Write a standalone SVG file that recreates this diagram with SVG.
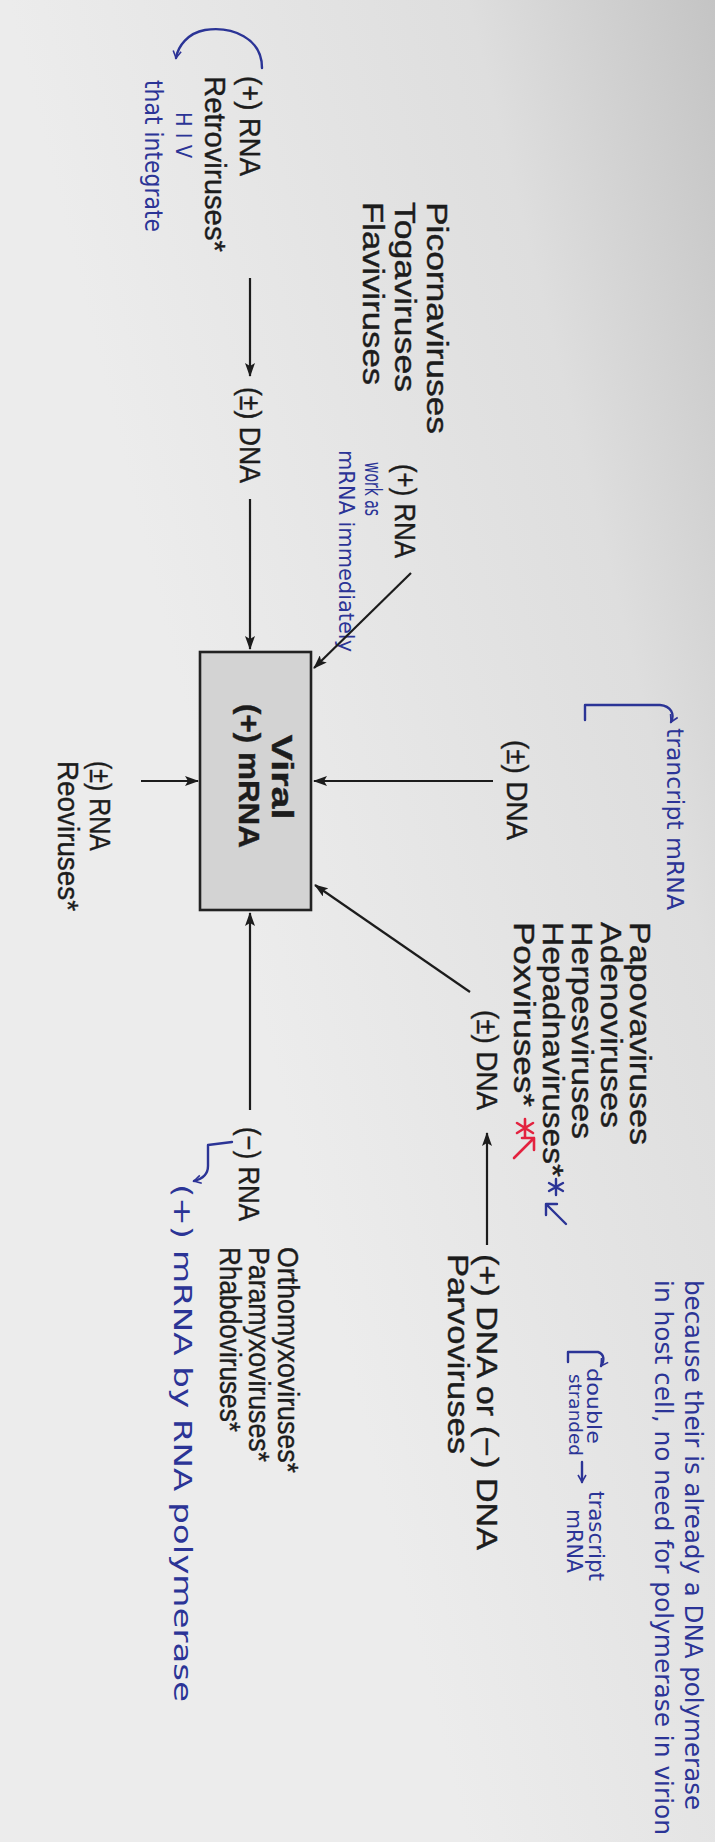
<svg xmlns="http://www.w3.org/2000/svg" width="715" height="1842" viewBox="0 0 715 1842">
<defs>
<linearGradient id="bg" x1="1" y1="0" x2="0.3" y2="0.45">
<stop offset="0" stop-color="#c4c4c4"/>
<stop offset="0.35" stop-color="#dedede"/>
<stop offset="1" stop-color="#ececec"/>
</linearGradient>
<marker id="ah" viewBox="0 0 14 10" refX="13" refY="5" markerWidth="14" markerHeight="10" markerUnits="userSpaceOnUse" orient="auto">
<path d="M0,0 L14,5 L0,10 L3,5 z" fill="#1c1c1c"/>
</marker>
<marker id="bh" viewBox="0 0 10 10" refX="8" refY="5" markerWidth="10" markerHeight="10" markerUnits="userSpaceOnUse" orient="auto">
<path d="M1,1 L8,5 L1,9" fill="none" stroke="#2d3296" stroke-width="1.6"/>
</marker>
<style>
.p{font-family:"Liberation Sans",Arial,sans-serif;font-size:29px;fill:#1c1c1c;stroke:#1c1c1c;stroke-width:0.4}
.b{font-weight:bold}
.h{font-family:"DejaVu Sans Condensed","Liberation Sans Narrow","DejaVu Sans",sans-serif;fill:#2b3496}
.c{stroke:#1c1c1c;stroke-width:2.2;fill:none;marker-end:url(#ah)}
.bl{stroke:#2b3496;stroke-width:2.4;fill:none;stroke-linecap:round;stroke-linejoin:round}
.rd{stroke:#e3223f;stroke-width:2.6;fill:none;stroke-linecap:round;stroke-linejoin:round}
</style>
</defs>
<rect width="715" height="1842" fill="url(#bg)"/>

<g id="retro">
<text class="p" transform="translate(240,76) rotate(90)" textLength="100" lengthAdjust="spacingAndGlyphs">(+) RNA</text>
<text class="p" transform="translate(205,76) rotate(90)" textLength="176" lengthAdjust="spacingAndGlyphs">Retroviruses*</text>
</g>
<g id="retro-note">
<path class="bl" d="M262,68 C262,38 232,26 205,30 C188,33 178,46 176,58" marker-end="url(#bh)"/>
<text class="h" font-size="22" transform="translate(176,112) rotate(90)" textLength="46" lengthAdjust="spacingAndGlyphs">H I V</text>
<text class="h" font-size="25" transform="translate(145,80) rotate(90)" textLength="152" lengthAdjust="spacingAndGlyphs">that integrate</text>
</g>
<g id="dna-left">
<text class="p" transform="translate(240,387) rotate(90)" textLength="96" lengthAdjust="spacingAndGlyphs">(±) DNA</text>
</g>
<g id="picorna">
<text class="p" transform="translate(427,202) rotate(90)" textLength="232" lengthAdjust="spacingAndGlyphs">Picornaviruses</text>
<text class="p" transform="translate(395,202) rotate(90)" textLength="190" lengthAdjust="spacingAndGlyphs">Togaviruses</text>
<text class="p" transform="translate(363,202) rotate(90)" textLength="183" lengthAdjust="spacingAndGlyphs">Flaviviruses</text>
<text class="p" transform="translate(395,464) rotate(90)" textLength="94" lengthAdjust="spacingAndGlyphs">(+) RNA</text>
</g>
<g id="picorna-note">
<text class="h" font-size="23" transform="translate(365,462) rotate(90)" textLength="54" lengthAdjust="spacingAndGlyphs">work as</text>
<text class="h" font-size="22" transform="translate(339,450) rotate(90)" textLength="202" lengthAdjust="spacingAndGlyphs">mRNA immediately</text>
</g>
<g id="viral-mrna">
<rect x="200" y="652" width="111" height="258" fill="#d3d3d3" stroke="#222" stroke-width="2.6"/>
<text class="p b" text-anchor="middle" transform="translate(272,777) rotate(90)" textLength="85" lengthAdjust="spacingAndGlyphs">Viral</text>
<text class="p b" text-anchor="middle" transform="translate(239,776) rotate(90)" textLength="144" lengthAdjust="spacingAndGlyphs">(+) mRNA</text>
</g>
<g id="reo">
<text class="p" transform="translate(90,761) rotate(90)" textLength="90" lengthAdjust="spacingAndGlyphs">(±) RNA</text>
<text class="p" transform="translate(58,761) rotate(90)" textLength="150" lengthAdjust="spacingAndGlyphs">Reoviruses*</text>
</g>
<g id="papova">
<text class="p" transform="translate(507,740) rotate(90)" textLength="100" lengthAdjust="spacingAndGlyphs">(±) DNA</text>
<text class="p" transform="translate(630,922) rotate(90)" textLength="223" lengthAdjust="spacingAndGlyphs">Papovaviruses</text>
<text class="p" transform="translate(601,922) rotate(90)" textLength="206" lengthAdjust="spacingAndGlyphs">Adenoviruses</text>
<text class="p" transform="translate(572,922) rotate(90)" textLength="217" lengthAdjust="spacingAndGlyphs">Herpesviruses</text>
<text class="p" transform="translate(543,922) rotate(90)" textLength="255" lengthAdjust="spacingAndGlyphs">Hepadnaviruses*</text>
<text class="p" transform="translate(514,922) rotate(90)" textLength="185" lengthAdjust="spacingAndGlyphs">Poxviruses*</text>
</g>
<g id="papova-note">
<path class="bl" d="M585,720 L585,705 L660,705 C671,706 675,714 671,722" marker-end="url(#bh)"/>
<text class="h" font-size="23" transform="translate(667,728) rotate(90)" textLength="182" lengthAdjust="spacingAndGlyphs">trancript mRNA</text>
<text class="h" font-size="24" transform="translate(685,1280) rotate(90)" textLength="530" lengthAdjust="spacingAndGlyphs">because their is already a DNA polymerase</text>
<text class="h" font-size="24" transform="translate(655,1280) rotate(90)" textLength="555" lengthAdjust="spacingAndGlyphs">in host cell, no need for polymerase in virion</text>
<g class="bl">
<path d="M556,1179 L556,1195 M549,1183 L563,1191 M549,1191 L563,1183"/>
<path d="M566,1224 L546,1204 M546,1215 L546,1204 L557,1204"/>
</g>
<g class="rd">
<path d="M525,1119 L525,1137 M517,1123 L533,1133 M517,1133 L533,1123"/>
<path d="M514,1158 L534,1138 M522,1138 L534,1138 L534,1150"/>
</g>
</g>
<g id="dna-mid">
<text class="p" transform="translate(477,1010) rotate(90)" textLength="100" lengthAdjust="spacingAndGlyphs">(±) DNA</text>
</g>
<g id="parvo">
<text class="p" transform="translate(477,1254) rotate(90)" textLength="296" lengthAdjust="spacingAndGlyphs">(+) DNA or (−) DNA</text>
<text class="p" transform="translate(448,1254) rotate(90)" textLength="200" lengthAdjust="spacingAndGlyphs">Parvoviruses</text>
</g>
<g id="parvo-note">
<path class="bl" d="M568,1362 L568,1352 L598,1352 C604,1354 605,1360 601,1366" marker-end="url(#bh)"/>
<text class="h" font-size="19" transform="translate(587,1368) rotate(90)" textLength="76" lengthAdjust="spacingAndGlyphs">double</text>
<text class="h" font-size="17" transform="translate(569,1374) rotate(90)" textLength="82" lengthAdjust="spacingAndGlyphs">stranded</text>
<path class="bl" d="M582,1462 L582,1482" marker-end="url(#bh)"/>
<text class="h" font-size="21" transform="translate(589,1491) rotate(90)" textLength="90" lengthAdjust="spacingAndGlyphs">trascript</text>
<text class="h" font-size="21" transform="translate(567,1509) rotate(90)" textLength="64" lengthAdjust="spacingAndGlyphs">mRNA</text>
</g>
<g id="neg-rna">
<text class="p" transform="translate(239,1127) rotate(90)" textLength="94" lengthAdjust="spacingAndGlyphs">(−) RNA</text>
<text class="p" transform="translate(278,1247) rotate(90)" textLength="226" lengthAdjust="spacingAndGlyphs">Orthomyxoviruses*</text>
<text class="p" transform="translate(249,1247) rotate(90)" textLength="215" lengthAdjust="spacingAndGlyphs">Paramyxoviruses*</text>
<text class="p" transform="translate(220,1247) rotate(90)" textLength="185" lengthAdjust="spacingAndGlyphs">Rhabdoviruses*</text>
</g>
<g id="neg-rna-note">
<path class="bl" d="M232,1142 L208,1145 L208,1166 C208,1175 202,1179 194,1181" marker-end="url(#bh)"/>
<text class="h" font-size="24" transform="translate(174,1184) rotate(90)" textLength="518" lengthAdjust="spacingAndGlyphs">(+) mRNA by RNA polymerase</text>
</g>

<g id="connectors">
<line class="c" x1="250" y1="278" x2="250" y2="376"/>
<line class="c" x1="250" y1="499" x2="250" y2="649"/>
<line class="c" x1="411" y1="573" x2="314" y2="668"/>
<line class="c" x1="141" y1="781" x2="198" y2="781"/>
<line class="c" x1="493" y1="781" x2="314" y2="781"/>
<line class="c" x1="470" y1="992" x2="315" y2="885"/>
<line class="c" x1="250" y1="1110" x2="250" y2="913"/>
<line class="c" x1="487" y1="1245" x2="487" y2="1133"/>
</g>
</svg>
